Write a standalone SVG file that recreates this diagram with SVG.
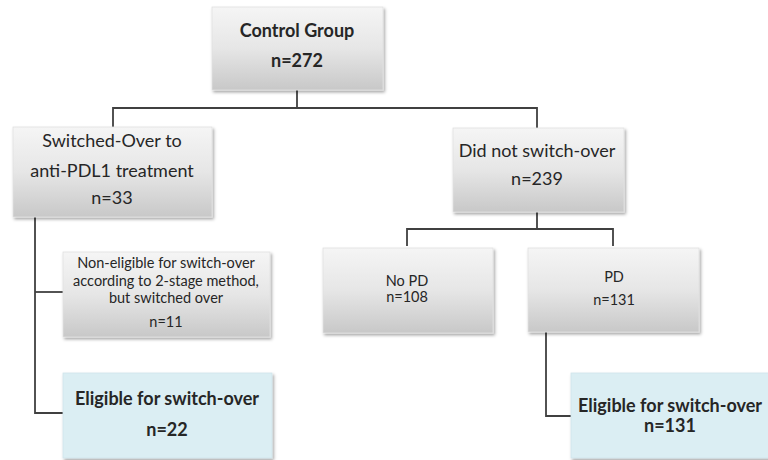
<svg xmlns="http://www.w3.org/2000/svg" width="768" height="460" viewBox="0 0 768 460">
<defs>
<linearGradient id="g" x1="0" y1="0" x2="0" y2="1">
<stop offset="0" stop-color="#f5f5f5"/>
<stop offset="0.5" stop-color="#e6e6e6"/>
<stop offset="1" stop-color="#c8c8c8"/>
</linearGradient>
<filter id="sh" x="-10%" y="-10%" width="125%" height="130%">
<feDropShadow dx="1.5" dy="2" stdDeviation="1.8" flood-color="#000" flood-opacity="0.35"/>
</filter>
</defs>
<style>
.box{fill:url(#g);stroke:#e0e0e0;stroke-width:0.8;filter:url(#sh)}
.blue{fill:#dbeef3;stroke:#d0e4ea;stroke-width:0.8;filter:url(#sh)}
text{font-family:Lato,"Liberation Sans",sans-serif;fill:#262626;text-anchor:middle}
.m{font-size:18px}
.b{font-size:18px;font-weight:bold}
.s{font-size:14.5px}
.c{fill:none;stroke:#404040;stroke-width:1.8}
</style>
<rect width="768" height="460" fill="#fff"/>
<g id="connectors">
<path class="c" d="M297 90 V108"/>
<path class="c" d="M113 127 V108 H537 V128"/>
<path class="c" d="M537 212 V229"/>
<path class="c" d="M407 246 V229 H613 V246"/>
<path class="c" d="M35 217 V413 H63"/>
<path class="c" d="M35 292 H63"/>
<path class="c" d="M546 332 V416 H571"/>
</g>
<g id="control">
<rect class="box" x="212" y="7" width="171" height="83"/>
<text class="b" x="297" y="37">Control Group</text>
<text class="b" x="297" y="67">n=272</text>
</g>
<g id="switched">
<rect class="box" x="13" y="127" width="199" height="90"/>
<text class="m" x="112" y="147">Switched-Over to</text>
<text class="m" x="112" y="177">anti-PDL1 treatment</text>
<text class="m" x="112" y="204">n=33</text>
</g>
<g id="didnot">
<rect class="box" x="453" y="128" width="171" height="84"/>
<text class="m" x="537" y="157">Did not switch-over</text>
<text class="m" x="537" y="185">n=239</text>
</g>
<g id="noneligible">
<rect class="box" x="63" y="252" width="207" height="85"/>
<text class="s" x="166" y="268">Non-eligible for switch-over</text>
<text class="s" x="166" y="286">according to 2-stage method,</text>
<text class="s" x="166" y="303">but switched over</text>
<text class="s" x="166" y="327">n=11</text>
</g>
<g id="nopd">
<rect class="box" x="323" y="248" width="170" height="85"/>
<text class="s" x="407" y="286">No PD</text>
<text class="s" x="407" y="302">n=108</text>
</g>
<g id="pd">
<rect class="box" x="528" y="248" width="171" height="84"/>
<text class="s" x="614" y="282">PD</text>
<text class="s" x="614" y="305">n=131</text>
</g>
<g id="eligible-left">
<rect class="blue" x="63" y="373" width="209" height="85"/>
<text class="b" x="167" y="405">Eligible for switch-over</text>
<text class="b" x="167" y="436">n=22</text>
</g>
<g id="eligible-right">
<rect class="blue" x="571" y="373" width="200" height="85"/>
<text class="b" x="670" y="412">Eligible for switch-over</text>
<text class="b" x="670" y="432">n=131</text>
</g>
</svg>
